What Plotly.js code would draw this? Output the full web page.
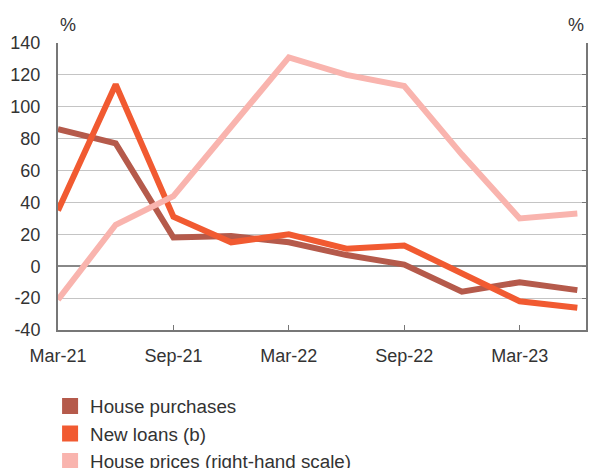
<!DOCTYPE html>
<html><head><meta charset="utf-8">
<script src="https://cdn.plot.ly/plotly-3.0.1.min.js"></script>
<style>html,body{margin:0;padding:0;background:#fff}#chart{width:589px;height:468px}</style>
</head><body><div id="chart"></div>
<script>
var categories = ['Mar-21','Jun-21','Sep-21','Dec-21','Mar-22','Jun-22','Sep-22','Dec-22','Mar-23','Jun-23'];
var tickLabels = ['Mar-21','Sep-21','Mar-22','Sep-22','Mar-23'];
var housePurchases = [86, 77, 18, 19, 15, 7, 1, -16, -10, -15];
var newLoans = [35, 114, 31, 15, 20, 11, 13, -5, -22, -26];
var housePrices = [-21, 26, 44, 87, 131, 120, 113, 70, 30, 33];
var yTicks = [-40, -20, 0, 20, 40, 60, 80, 100, 120, 140];
var yTickText = yTicks.map(function (v) { return String(v); });

var cPurch = '#B55A4B', cLoans = '#F15A31', cPrices = '#F9B4AE';
var font = 'Liberation Sans, Arial, Helvetica, sans-serif';

function line(y, c, axis) {
  return {x: categories, y: y, type: 'scatter', mode: 'lines', yaxis: axis,
    line: {color: c, width: 6}, showlegend: false, hoverinfo: 'skip'};
}
function leg(name, c) {
  return {x: [null], y: [null], type: 'scatter', mode: 'markers', name: name,
    marker: {symbol: 'square', size: 16, color: c}, showlegend: true};
}
var data = [
  line(housePrices, cPrices, 'y2'),
  line(housePurchases, cPurch, 'y'),
  line(newLoans, cLoans, 'y'),
  leg('House purchases', cPurch),
  leg('New loans (b)', cLoans),
  leg('House prices (right-hand scale)', cPrices)
];
var layout = {
  width: 589, height: 468,
  margin: {l: 58, r: 3, t: 43, b: 138, autoexpand: false},
  paper_bgcolor: '#fff', plot_bgcolor: '#fff',
  font: {family: font, size: 18, color: '#333'},
  showlegend: true,
  legend: {x: -0.015, y: -0.2, xanchor: 'left', yanchor: 'top', orientation: 'v',
    traceorder: 'normal', font: {size: 18.8, color: '#333'}, tracegroupgap: 0, itemsizing: 'trace'},
  xaxis: {type: 'category', range: [0, 9.15], tickmode: 'array', tickvals: tickLabels, ticktext: tickLabels,
    ticks: 'inside', ticklen: 5, tickcolor: '#777', showgrid: false, showline: true, linecolor: '#777', linewidth: 2,
    ticklabelstandoff: 8, zeroline: false, fixedrange: true},
  yaxis: {range: [-40, 140], tickmode: 'array', tickvals: yTicks, ticktext: yTickText, showgrid: true, gridcolor: '#c4c4c4', gridwidth: 1,
    zeroline: true, zerolinecolor: '#888', zerolinewidth: 1.5, showline: true, linecolor: '#777', linewidth: 2,
    ticks: '', ticklabelstandoff: 12},
  yaxis2: {range: [-40, 140], tickvals: yTicks, overlaying: 'y', side: 'right', showgrid: false, zeroline: false,
    showline: true, linecolor: '#777', linewidth: 2, ticks: 'inside', ticklen: 4, tickcolor: '#777', showticklabels: false},
  annotations: [
    {text: '%', xref: 'paper', yref: 'paper', x: 0, y: 1, xanchor: 'left', yanchor: 'bottom', yshift: 6, showarrow: false, font: {size: 18, color: '#333'}},
    {text: '%', xref: 'paper', yref: 'paper', x: 1, y: 1, xanchor: 'right', yanchor: 'bottom', yshift: 6, showarrow: false, font: {size: 18, color: '#333'}}
  ]
};
Plotly.newPlot('chart', data, layout, {displayModeBar: false, staticPlot: true});
</script></body></html>
